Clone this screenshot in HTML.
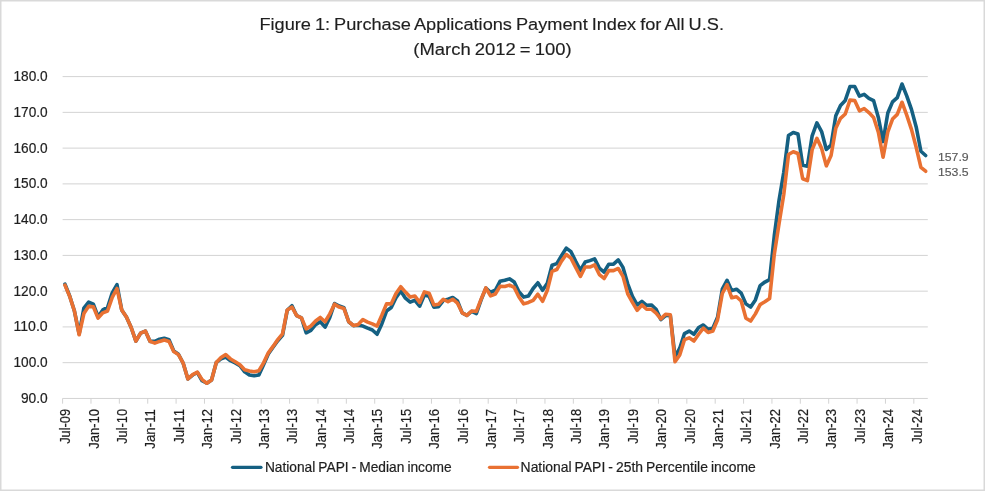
<!DOCTYPE html>
<html lang="en"><head><meta charset="utf-8"><title>Figure 1: Purchase Applications Payment Index for All U.S.</title>
<style>
html,body{margin:0;padding:0;background:#fff;}
body{width:985px;height:491px;overflow:hidden;}
svg{display:block;}
text{font-family:"Liberation Sans",sans-serif;}
</style></head><body>
<svg width="985" height="491" viewBox="0 0 985 491">
<rect x="0" y="0" width="985" height="491" fill="#fff"/>
<rect x="0.75" y="0.75" width="983.5" height="489.5" fill="none" stroke="#d9d9d9" stroke-width="1.5"/>

<g fill="#1f1f1f" stroke="#1f1f1f" stroke-width="0.15" font-size="17.4px" word-spacing="-1px">
<text x="259.4" y="29.9" textLength="464.6" lengthAdjust="spacingAndGlyphs">Figure 1: Purchase Applications Payment Index for All U.S.</text>
<text x="413.3" y="55" textLength="158.3" lengthAdjust="spacingAndGlyphs">(March 2012 = 100)</text>
</g>
<g stroke="#d3d3d3" stroke-width="1" fill="none">
<line x1="62.6" y1="76.60" x2="927.8" y2="76.60"/>
<line x1="62.6" y1="112.36" x2="927.8" y2="112.36"/>
<line x1="62.6" y1="148.12" x2="927.8" y2="148.12"/>
<line x1="62.6" y1="183.88" x2="927.8" y2="183.88"/>
<line x1="62.6" y1="219.64" x2="927.8" y2="219.64"/>
<line x1="62.6" y1="255.40" x2="927.8" y2="255.40"/>
<line x1="62.6" y1="291.16" x2="927.8" y2="291.16"/>
<line x1="62.6" y1="326.92" x2="927.8" y2="326.92"/>
<line x1="62.6" y1="362.68" x2="927.8" y2="362.68"/>
<line x1="62.6" y1="398.44" x2="927.8" y2="398.44"/>
<line x1="62.60" y1="398.4" x2="62.60" y2="403.7"/>
<line x1="90.97" y1="398.4" x2="90.97" y2="403.7"/>
<line x1="119.35" y1="398.4" x2="119.35" y2="403.7"/>
<line x1="147.72" y1="398.4" x2="147.72" y2="403.7"/>
<line x1="176.10" y1="398.4" x2="176.10" y2="403.7"/>
<line x1="204.47" y1="398.4" x2="204.47" y2="403.7"/>
<line x1="232.84" y1="398.4" x2="232.84" y2="403.7"/>
<line x1="261.22" y1="398.4" x2="261.22" y2="403.7"/>
<line x1="289.59" y1="398.4" x2="289.59" y2="403.7"/>
<line x1="317.97" y1="398.4" x2="317.97" y2="403.7"/>
<line x1="346.34" y1="398.4" x2="346.34" y2="403.7"/>
<line x1="374.71" y1="398.4" x2="374.71" y2="403.7"/>
<line x1="403.09" y1="398.4" x2="403.09" y2="403.7"/>
<line x1="431.46" y1="398.4" x2="431.46" y2="403.7"/>
<line x1="459.84" y1="398.4" x2="459.84" y2="403.7"/>
<line x1="488.21" y1="398.4" x2="488.21" y2="403.7"/>
<line x1="516.58" y1="398.4" x2="516.58" y2="403.7"/>
<line x1="544.96" y1="398.4" x2="544.96" y2="403.7"/>
<line x1="573.33" y1="398.4" x2="573.33" y2="403.7"/>
<line x1="601.71" y1="398.4" x2="601.71" y2="403.7"/>
<line x1="630.08" y1="398.4" x2="630.08" y2="403.7"/>
<line x1="658.45" y1="398.4" x2="658.45" y2="403.7"/>
<line x1="686.83" y1="398.4" x2="686.83" y2="403.7"/>
<line x1="715.20" y1="398.4" x2="715.20" y2="403.7"/>
<line x1="743.58" y1="398.4" x2="743.58" y2="403.7"/>
<line x1="771.95" y1="398.4" x2="771.95" y2="403.7"/>
<line x1="800.32" y1="398.4" x2="800.32" y2="403.7"/>
<line x1="828.70" y1="398.4" x2="828.70" y2="403.7"/>
<line x1="857.07" y1="398.4" x2="857.07" y2="403.7"/>
<line x1="885.45" y1="398.4" x2="885.45" y2="403.7"/>
<line x1="913.82" y1="398.4" x2="913.82" y2="403.7"/>
</g>
<g fill="#1f1f1f" stroke="#1f1f1f" stroke-width="0.2" font-size="13.9px">
<text x="13.5" y="81.10" textLength="34.2" lengthAdjust="spacingAndGlyphs">180.0</text>
<text x="13.5" y="116.85" textLength="34.2" lengthAdjust="spacingAndGlyphs">170.0</text>
<text x="13.5" y="152.60" textLength="34.2" lengthAdjust="spacingAndGlyphs">160.0</text>
<text x="13.5" y="188.35" textLength="34.2" lengthAdjust="spacingAndGlyphs">150.0</text>
<text x="13.5" y="224.10" textLength="34.2" lengthAdjust="spacingAndGlyphs">140.0</text>
<text x="13.5" y="259.85" textLength="34.2" lengthAdjust="spacingAndGlyphs">130.0</text>
<text x="13.5" y="295.60" textLength="34.2" lengthAdjust="spacingAndGlyphs">120.0</text>
<text x="13.5" y="331.35" textLength="34.2" lengthAdjust="spacingAndGlyphs">110.0</text>
<text x="13.5" y="367.10" textLength="34.2" lengthAdjust="spacingAndGlyphs">100.0</text>
<text x="20.9" y="402.85" textLength="26.8" lengthAdjust="spacingAndGlyphs">90.0</text>
</g>
<g fill="#1f1f1f" stroke="#1f1f1f" stroke-width="0.2" font-size="13.9px">
<text transform="translate(70.36,409) rotate(-90)" x="-34.8" y="0" textLength="34.8" lengthAdjust="spacingAndGlyphs">Jul-09</text>
<text transform="translate(98.74,409) rotate(-90)" x="-39.7" y="0" textLength="39.7" lengthAdjust="spacingAndGlyphs">Jan-10</text>
<text transform="translate(127.11,409) rotate(-90)" x="-34.8" y="0" textLength="34.8" lengthAdjust="spacingAndGlyphs">Jul-10</text>
<text transform="translate(155.49,409) rotate(-90)" x="-39.7" y="0" textLength="39.7" lengthAdjust="spacingAndGlyphs">Jan-11</text>
<text transform="translate(183.86,409) rotate(-90)" x="-34.8" y="0" textLength="34.8" lengthAdjust="spacingAndGlyphs">Jul-11</text>
<text transform="translate(212.23,409) rotate(-90)" x="-39.7" y="0" textLength="39.7" lengthAdjust="spacingAndGlyphs">Jan-12</text>
<text transform="translate(240.61,409) rotate(-90)" x="-34.8" y="0" textLength="34.8" lengthAdjust="spacingAndGlyphs">Jul-12</text>
<text transform="translate(268.98,409) rotate(-90)" x="-39.7" y="0" textLength="39.7" lengthAdjust="spacingAndGlyphs">Jan-13</text>
<text transform="translate(297.36,409) rotate(-90)" x="-34.8" y="0" textLength="34.8" lengthAdjust="spacingAndGlyphs">Jul-13</text>
<text transform="translate(325.73,409) rotate(-90)" x="-39.7" y="0" textLength="39.7" lengthAdjust="spacingAndGlyphs">Jan-14</text>
<text transform="translate(354.10,409) rotate(-90)" x="-34.8" y="0" textLength="34.8" lengthAdjust="spacingAndGlyphs">Jul-14</text>
<text transform="translate(382.48,409) rotate(-90)" x="-39.7" y="0" textLength="39.7" lengthAdjust="spacingAndGlyphs">Jan-15</text>
<text transform="translate(410.85,409) rotate(-90)" x="-34.8" y="0" textLength="34.8" lengthAdjust="spacingAndGlyphs">Jul-15</text>
<text transform="translate(439.23,409) rotate(-90)" x="-39.7" y="0" textLength="39.7" lengthAdjust="spacingAndGlyphs">Jan-16</text>
<text transform="translate(467.60,409) rotate(-90)" x="-34.8" y="0" textLength="34.8" lengthAdjust="spacingAndGlyphs">Jul-16</text>
<text transform="translate(495.97,409) rotate(-90)" x="-39.7" y="0" textLength="39.7" lengthAdjust="spacingAndGlyphs">Jan-17</text>
<text transform="translate(524.35,409) rotate(-90)" x="-34.8" y="0" textLength="34.8" lengthAdjust="spacingAndGlyphs">Jul-17</text>
<text transform="translate(552.72,409) rotate(-90)" x="-39.7" y="0" textLength="39.7" lengthAdjust="spacingAndGlyphs">Jan-18</text>
<text transform="translate(581.10,409) rotate(-90)" x="-34.8" y="0" textLength="34.8" lengthAdjust="spacingAndGlyphs">Jul-18</text>
<text transform="translate(609.47,409) rotate(-90)" x="-39.7" y="0" textLength="39.7" lengthAdjust="spacingAndGlyphs">Jan-19</text>
<text transform="translate(637.84,409) rotate(-90)" x="-34.8" y="0" textLength="34.8" lengthAdjust="spacingAndGlyphs">Jul-19</text>
<text transform="translate(666.22,409) rotate(-90)" x="-39.7" y="0" textLength="39.7" lengthAdjust="spacingAndGlyphs">Jan-20</text>
<text transform="translate(694.59,409) rotate(-90)" x="-34.8" y="0" textLength="34.8" lengthAdjust="spacingAndGlyphs">Jul-20</text>
<text transform="translate(722.97,409) rotate(-90)" x="-39.7" y="0" textLength="39.7" lengthAdjust="spacingAndGlyphs">Jan-21</text>
<text transform="translate(751.34,409) rotate(-90)" x="-34.8" y="0" textLength="34.8" lengthAdjust="spacingAndGlyphs">Jul-21</text>
<text transform="translate(779.71,409) rotate(-90)" x="-39.7" y="0" textLength="39.7" lengthAdjust="spacingAndGlyphs">Jan-22</text>
<text transform="translate(808.09,409) rotate(-90)" x="-34.8" y="0" textLength="34.8" lengthAdjust="spacingAndGlyphs">Jul-22</text>
<text transform="translate(836.46,409) rotate(-90)" x="-39.7" y="0" textLength="39.7" lengthAdjust="spacingAndGlyphs">Jan-23</text>
<text transform="translate(864.84,409) rotate(-90)" x="-34.8" y="0" textLength="34.8" lengthAdjust="spacingAndGlyphs">Jul-23</text>
<text transform="translate(893.21,409) rotate(-90)" x="-39.7" y="0" textLength="39.7" lengthAdjust="spacingAndGlyphs">Jan-24</text>
<text transform="translate(921.58,409) rotate(-90)" x="-34.8" y="0" textLength="34.8" lengthAdjust="spacingAndGlyphs">Jul-24</text>
</g>
<polyline points="64.96,284.21 69.69,296.00 74.42,311.02 79.15,333.90 83.88,308.16 88.61,302.08 93.34,304.23 98.07,316.74 102.80,309.95 107.53,307.44 112.25,292.79 116.98,284.57 121.71,309.95 126.44,317.10 131.17,327.47 135.90,341.05 140.63,333.19 145.36,331.04 150.09,341.41 154.82,341.41 159.54,339.26 164.27,338.19 169.00,339.62 173.73,351.06 178.46,354.28 183.19,363.22 187.92,378.94 192.65,375.01 197.38,372.51 202.11,380.73 206.83,383.24 211.56,380.02 216.29,362.50 221.02,358.93 225.75,357.14 230.48,360.71 235.21,362.86 239.94,365.72 244.67,371.80 249.40,375.01 254.12,375.73 258.85,375.01 263.58,364.64 268.31,353.92 273.04,347.13 277.77,340.69 282.50,335.33 287.23,310.31 291.96,305.66 296.69,315.67 301.41,317.81 306.14,332.83 310.87,330.33 315.60,324.61 320.33,321.75 325.06,327.11 329.79,317.46 334.52,303.51 339.25,306.01 343.98,307.80 348.70,321.75 353.43,325.68 358.16,325.32 362.89,326.03 367.62,328.18 372.35,329.97 377.08,334.26 381.81,323.89 386.54,311.02 391.27,307.44 395.99,297.79 400.72,291.00 405.45,298.15 410.18,302.08 414.91,300.29 419.64,306.19 424.37,294.93 429.10,296.36 433.83,307.09 438.56,306.73 443.28,300.65 448.01,299.22 452.74,297.44 457.47,301.01 462.20,312.81 466.93,315.31 471.66,311.38 476.39,313.52 481.12,299.94 485.85,288.14 490.57,292.25 495.30,290.28 500.03,281.35 504.76,280.27 509.49,278.85 514.22,282.06 518.95,291.72 523.68,297.08 528.41,296.00 533.14,288.50 537.86,282.78 542.59,290.28 547.32,283.13 552.05,265.26 556.78,263.65 561.51,255.79 566.24,248.10 570.97,251.68 575.70,261.33 580.43,270.26 585.15,262.04 589.88,260.61 594.61,258.83 599.34,268.12 604.07,272.05 608.80,264.19 613.53,264.19 618.26,259.90 622.99,267.41 627.72,283.85 632.44,296.36 637.17,304.94 641.90,301.37 646.63,305.30 651.36,304.94 656.09,309.23 660.82,319.60 665.55,315.67 670.28,315.31 675.01,356.78 679.73,348.20 684.46,333.54 689.19,331.04 693.92,334.26 698.65,327.47 703.38,324.96 708.11,329.25 712.84,328.18 717.57,317.28 722.30,289.21 727.02,280.27 731.75,290.64 736.48,289.21 741.21,293.14 745.94,303.87 750.67,307.09 755.40,299.94 760.13,285.64 764.86,282.06 769.59,279.56 774.31,235.59 779.04,200.19 783.77,172.31 788.50,135.49 793.23,132.45 797.96,134.06 802.69,165.16 807.42,166.23 812.15,135.84 816.88,122.97 821.60,131.56 826.33,149.43 831.06,145.14 835.79,115.83 840.52,105.46 845.25,100.45 849.98,86.51 854.71,86.51 859.44,96.16 864.17,94.38 868.89,98.31 873.62,100.63 878.35,117.43 883.08,141.56 887.81,112.96 892.54,101.88 897.27,97.59 902.00,84.01 906.73,95.81 911.46,109.39 916.18,126.91 920.91,151.22 925.64,155.51" fill="none" stroke="#156082" stroke-width="3.6" stroke-linejoin="round" stroke-linecap="round"/>
<polyline points="64.96,285.10 69.69,296.36 74.42,311.02 79.15,334.79 83.88,313.52 88.61,306.37 93.34,306.73 98.07,318.17 102.80,312.81 107.53,311.02 112.25,297.44 116.98,288.50 121.71,309.95 126.44,317.10 131.17,327.47 135.90,341.05 140.63,333.19 145.36,331.04 150.09,341.41 154.82,343.19 159.54,341.41 164.27,339.98 169.00,341.41 173.73,351.42 178.46,354.63 183.19,363.22 187.92,378.94 192.65,374.66 197.38,372.15 202.11,379.66 206.83,383.24 211.56,380.02 216.29,362.50 221.02,357.50 225.75,354.63 230.48,358.93 235.21,361.79 239.94,364.82 244.67,369.83 249.40,371.08 254.12,371.80 258.85,370.72 263.58,362.86 268.31,352.85 273.04,346.41 277.77,339.62 282.50,333.90 287.23,309.95 291.96,307.09 296.69,315.67 301.41,317.81 306.14,328.89 310.87,326.03 315.60,321.03 320.33,317.46 325.06,321.75 329.79,313.88 334.52,304.23 339.25,307.09 343.98,308.52 348.70,321.57 353.43,325.50 358.16,324.61 362.89,319.60 367.62,322.10 372.35,323.89 377.08,326.03 381.81,315.31 386.54,303.87 391.27,303.87 395.99,293.50 400.72,286.71 405.45,292.07 410.18,297.08 414.91,296.00 419.64,302.44 424.37,291.89 429.10,293.14 433.83,304.94 438.56,304.23 443.28,299.22 448.01,301.73 452.74,299.22 457.47,303.16 462.20,312.81 466.93,315.31 471.66,311.02 476.39,311.38 481.12,299.22 485.85,287.96 490.57,295.83 495.30,294.04 500.03,286.35 504.76,286.53 509.49,285.10 514.22,287.43 518.95,297.08 523.68,303.87 528.41,302.44 533.14,300.29 537.86,294.22 542.59,301.37 547.32,290.28 552.05,271.34 556.78,269.55 561.51,261.15 566.24,254.54 570.97,258.11 575.70,267.41 580.43,276.34 585.15,267.05 589.88,267.05 594.61,264.90 599.34,274.56 604.07,278.49 608.80,270.62 613.53,270.62 618.26,268.48 622.99,276.34 627.72,293.86 632.44,302.44 637.17,310.31 641.90,304.94 646.63,309.23 651.36,309.23 656.09,313.17 660.82,318.88 665.55,314.24 670.28,314.77 675.01,361.79 679.73,354.99 684.46,339.62 689.19,337.83 693.92,341.05 698.65,334.26 703.38,328.18 708.11,332.47 712.84,331.04 717.57,319.78 722.30,293.50 727.02,284.57 731.75,297.79 736.48,296.72 741.21,301.01 745.94,318.17 750.67,321.03 755.40,313.88 760.13,304.59 764.86,301.73 769.59,298.51 774.31,254.18 779.04,223.79 783.77,194.48 788.50,154.44 793.23,151.75 797.96,153.54 802.69,178.75 807.42,180.53 812.15,149.61 816.88,138.35 821.60,148.36 826.33,165.88 831.06,155.51 835.79,128.34 840.52,118.33 845.25,114.04 849.98,100.09 854.71,100.45 859.44,110.82 864.17,108.50 868.89,112.61 873.62,117.43 878.35,132.27 883.08,157.29 887.81,131.91 892.54,119.04 897.27,114.39 902.00,102.24 906.73,115.11 911.46,129.41 916.18,147.29 920.91,167.31 925.64,171.24" fill="none" stroke="#e97132" stroke-width="3.6" stroke-linejoin="round" stroke-linecap="round"/>
<g fill="#595959" stroke="#595959" stroke-width="0.15" font-size="10.9px">
<text x="937.9" y="160.6" textLength="30.8" lengthAdjust="spacingAndGlyphs">157.9</text>
<text x="937.9" y="176.1" textLength="30.8" lengthAdjust="spacingAndGlyphs">153.5</text>
</g>
<line x1="232.5" y1="467.3" x2="261" y2="467.3" stroke="#156082" stroke-width="3.2" stroke-linecap="round"/>
<line x1="489.5" y1="467.3" x2="517.5" y2="467.3" stroke="#e97132" stroke-width="3.2" stroke-linecap="round"/>
<g fill="#1f1f1f" stroke="#1f1f1f" stroke-width="0.2" font-size="13.9px" word-spacing="-0.8px">
<text x="264.9" y="471.9" textLength="186.8" lengthAdjust="spacingAndGlyphs">National PAPI - Median income</text>
<text x="520.6" y="471.9" textLength="235.1" lengthAdjust="spacingAndGlyphs">National PAPI - 25th Percentile income</text>
</g>
</svg></body></html>
